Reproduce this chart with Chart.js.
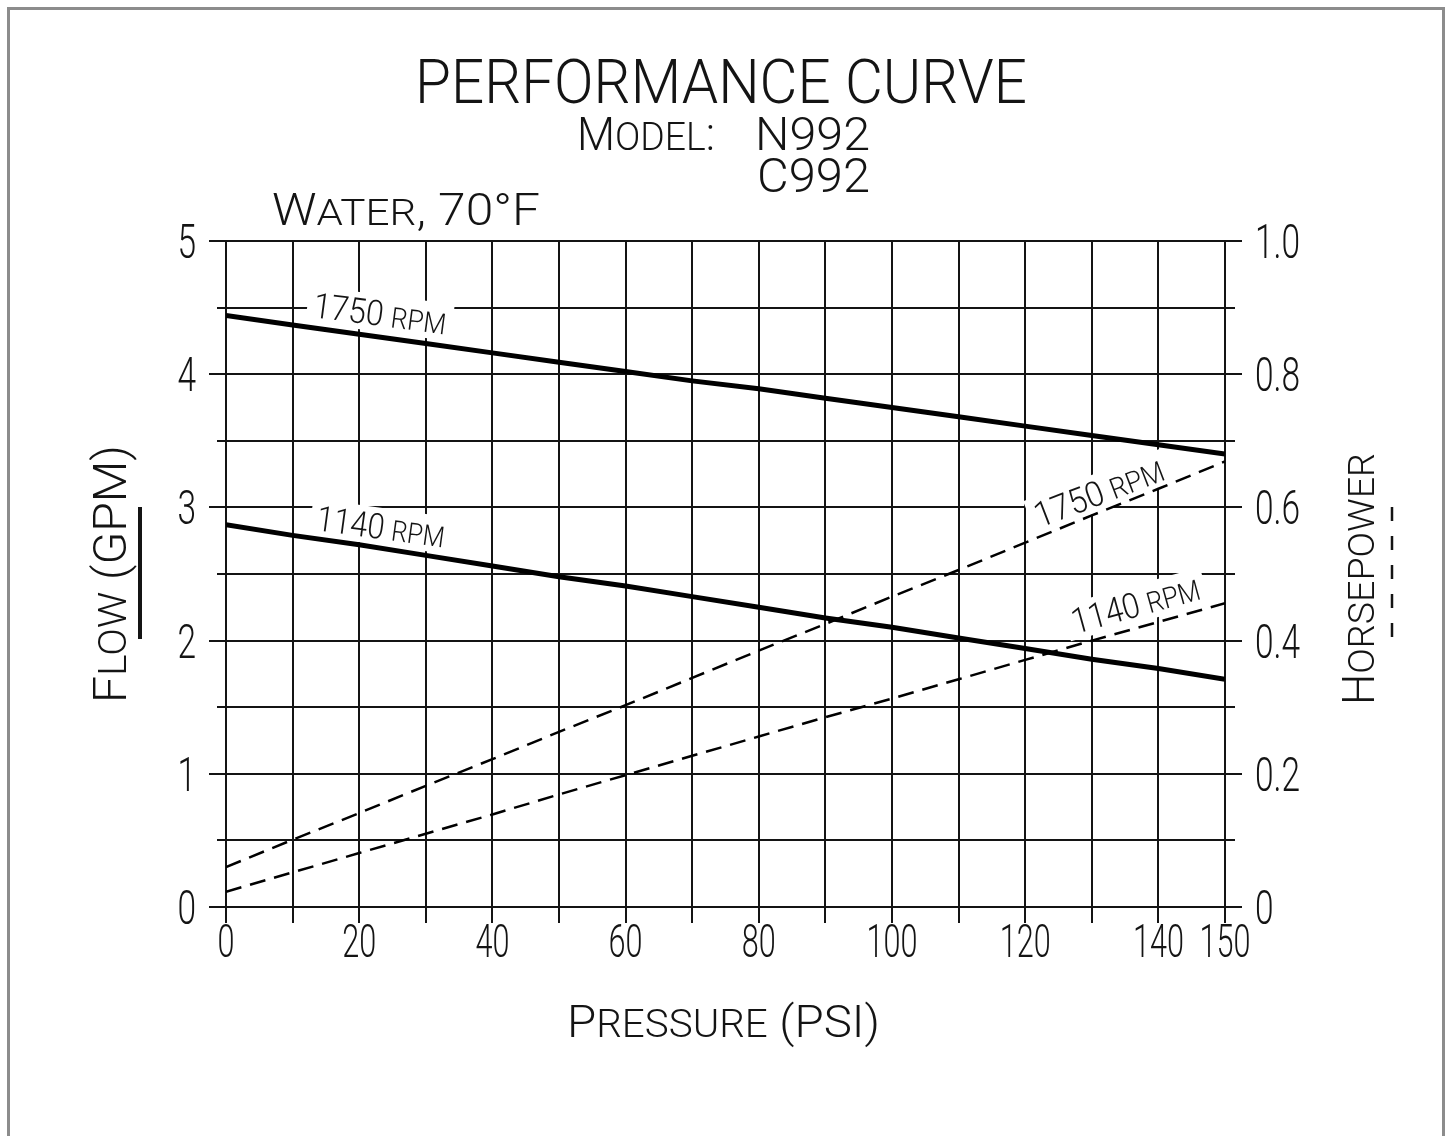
<!DOCTYPE html>
<html>
<head>
<meta charset="utf-8">
<title>Performance Curve</title>
<script src="https://cdn.jsdelivr.net/npm/chart.js@4.4.0/dist/chart.umd.min.js"></script>
<style>
  html, body { margin: 0; padding: 0; background: #fff; }
  canvas { display: block; }
</style>
</head>
<body>
<canvas id="curveChart" width="1451" height="1136"></canvas>
<script>
// pressure (psi) where the curves were read
const pressure = [0, 10, 20, 30, 40, 50, 60, 70, 80, 90, 100, 110, 120, 130, 140, 150];

// flow (GPM), solid lines
const flow1750 = [4.44, 4.37, 4.30, 4.23, 4.16, 4.09, 4.02, 3.95, 3.89, 3.82, 3.75, 3.68, 3.61, 3.54, 3.47, 3.40];
const flow1140 = [2.87, 2.79, 2.72, 2.64, 2.56, 2.48, 2.41, 2.33, 2.25, 2.17, 2.10, 2.02, 1.94, 1.86, 1.79, 1.71];

// horsepower, dashed lines
const hp1750 = [0.060, 0.101, 0.141, 0.182, 0.222, 0.263, 0.303, 0.344, 0.385, 0.425, 0.466, 0.506, 0.547, 0.588, 0.628, 0.669];
const hp1140 = [0.023, 0.052, 0.081, 0.110, 0.139, 0.169, 0.198, 0.227, 0.256, 0.285, 0.313, 0.342, 0.371, 0.400, 0.428, 0.456];

// tick labels
const pressureLabels = [0, 20, 40, 60, 80, 100, 120, 140, 150];
const flowLabels = [0, 1, 2, 3, 4, 5];
const hpLabels = ['0', '0.2', '0.4', '0.6', '0.8', '1.0'];

const FAMILY = 'Roboto, "DejaVu Sans", sans-serif';
const WEIGHT = 300;
const CAP_RATIO = 0.711;
const INK = '#141414';

// curve labels: anchor in data units (psi, axis value), baseline angle in degrees
const curveLabels = [
    { text: '1750 rpm', axis: 'y',  at: [12.9, 4.43],   angle: 7.5,   width: 134 },
    { text: '1140 rpm', axis: 'y',  at: [13.4, 2.83],   angle: 7.8,   width: 129 },
    { text: '1750 rpm', axis: 'y2', at: [122.2, 0.569], angle: -21,   width: 136 },
    { text: '1140 rpm', axis: 'y2', at: [127.5, 0.41],  angle: -15.5, width: 132 }
];

// lowercase letters are drawn as small capitals, like the drafting font
function layoutRuns(ctx, text, o) {
    const big = o.cap / CAP_RATIO;
    const small = big * (o.smallRatio || 0.85);
    const runs = [];
    for (const ch of text) {
        const low = ch !== ch.toUpperCase();
        const size = low ? small : big;
        const t = low ? ch.toUpperCase() : ch;
        const last = runs[runs.length - 1];
        if (last && last.size === size) last.t += t;
        else runs.push({ t: t, size: size });
    }
    let w = 0;
    runs.forEach(r => {
        ctx.font = WEIGHT + ' ' + r.size + 'px ' + FAMILY;
        r.w = ctx.measureText(r.t).width;
        w += r.w;
    });
    return { runs: runs, w: w };
}

function drawText(ctx, text, x, y, o) {
    ctx.save();
    const lay = layoutRuns(ctx, text, o);
    const sx = o.width ? o.width / lay.w : (o.sx || 1);
    ctx.translate(x, y);
    if (o.angle) ctx.rotate(o.angle * Math.PI / 180);
    ctx.scale(sx, 1);
    let cx = o.align === 'center' ? -lay.w / 2 : (o.align === 'right' ? -lay.w : 0);
    if (o.knockout) {
        const p = o.knockout;
        ctx.fillStyle = '#fff';
        ctx.fillRect(cx - p / sx, -o.cap - p, lay.w + 2 * p / sx, o.cap + 2 * p);
        ctx.restore();
        return;
    }
    ctx.fillStyle = INK;
    ctx.textAlign = 'left';
    ctx.textBaseline = 'alphabetic';
    lay.runs.forEach(r => {
        ctx.font = WEIGHT + ' ' + r.size + 'px ' + FAMILY;
        ctx.fillText(r.t, cx, 0);
        cx += r.w;
    });
    ctx.restore();
}

function labelPoint(chart, l) {
    return [chart.scales.x.getPixelForValue(l.at[0]), chart.scales[l.axis].getPixelForValue(l.at[1])];
}

const drawingSheet = {
    id: 'drawingSheet',
    beforeDraw(chart) {
        const ctx = chart.ctx;
        ctx.save();
        ctx.fillStyle = '#fff';
        ctx.fillRect(0, 0, chart.width, chart.height);
        ctx.strokeStyle = '#8c8c8c';
        ctx.lineWidth = 3;
        ctx.strokeRect(8.5, 8.5, chart.width - 16, chart.height + 20);
        ctx.restore();
    },
    beforeDatasetsDraw(chart) {
        // white gaps in the grid behind the curve labels
        curveLabels.forEach(l => {
            const p = labelPoint(chart, l);
            drawText(chart.ctx, l.text, p[0], p[1], { cap: 25, smallRatio: 0.82, angle: l.angle, width: l.width, knockout: 6 });
        });
    },
    afterDraw(chart) {
        const ctx = chart.ctx;
        const { x, y, y2 } = chart.scales;

        // minor ticks at the half units
        ctx.save();
        ctx.strokeStyle = INK;
        ctx.lineWidth = 2;
        y.ticks.forEach(t => {
            if (Number.isInteger(t.value)) return;
            const py = Math.round(y.getPixelForValue(t.value));
            ctx.beginPath();
            ctx.moveTo(y.right - 9, py); ctx.lineTo(y.right, py);
            ctx.moveTo(y2.left, py); ctx.lineTo(y2.left + 10, py);
            ctx.stroke();
        });
        ctx.restore();

        // tick labels
        pressureLabels.forEach(v => drawText(ctx, String(v), x.getPixelForValue(v), x.top + 50, { cap: 33, sx: 0.66, align: 'center' }));
        flowLabels.forEach(v => drawText(ctx, String(v), y.right - 30, y.getPixelForValue(v) + 17, { cap: 34, sx: 0.7, align: 'right' }));
        hpLabels.forEach(s => drawText(ctx, s, y2.left + 30, y2.getPixelForValue(parseFloat(s)) + 17, { cap: 34, sx: 0.7, align: 'left' }));

        // curve labels
        curveLabels.forEach(l => {
            const p = labelPoint(chart, l);
            drawText(ctx, l.text, p[0], p[1], { cap: 25, smallRatio: 0.82, angle: l.angle, width: l.width });
        });

        // titles
        drawText(ctx, 'PERFORMANCE CURVE', 415, 103, { cap: 43, width: 612 });
        drawText(ctx, 'Model:', 577, 150, { cap: 33, width: 138 });
        drawText(ctx, 'N992', 755, 150, { cap: 33, width: 115 });
        drawText(ctx, 'C992', 757, 192, { cap: 34, width: 113 });
        drawText(ctx, 'Water, 70°F', 272, 225, { cap: 31, width: 268 });

        // axis titles
        drawText(ctx, 'Pressure (PSI)', 567, 1037, { cap: 32, width: 313 });
        drawText(ctx, 'Flow (GPM)', 126, 703, { cap: 33, width: 258, angle: -90 });
        drawText(ctx, 'Horsepower', 1374, 705, { cap: 31, width: 252, angle: -90 });

        // line style keys under the axis titles
        ctx.save();
        ctx.strokeStyle = INK;
        ctx.lineWidth = 4;
        ctx.beginPath(); ctx.moveTo(140, 507); ctx.lineTo(140, 639); ctx.stroke();
        ctx.lineWidth = 2.5;
        ctx.setLineDash([14, 15]);
        ctx.beginPath(); ctx.moveTo(1392, 507); ctx.lineTo(1392, 640); ctx.stroke();
        ctx.restore();
    }
};

function series(values) {
    return pressure.map((p, i) => ({ x: p, y: values[i] }));
}

const ctxCurve = document.getElementById('curveChart');
new Chart(ctxCurve, {
    type: 'line',
    data: {
        datasets: [
            { label: 'Flow 1750 RPM', data: series(flow1750), yAxisID: 'y', borderColor: '#000', borderWidth: 5, pointRadius: 0, tension: 0 },
            { label: 'Flow 1140 RPM', data: series(flow1140), yAxisID: 'y', borderColor: '#000', borderWidth: 5, pointRadius: 0, tension: 0 },
            { label: 'HP 1750 RPM', data: series(hp1750), yAxisID: 'y2', borderColor: '#000', borderWidth: 2.5, borderDash: [16, 9], pointRadius: 0, tension: 0 },
            { label: 'HP 1140 RPM', data: series(hp1140), yAxisID: 'y2', borderColor: '#000', borderWidth: 2.5, borderDash: [16, 9], pointRadius: 0, tension: 0 }
        ]
    },
    options: {
        responsive: false,
        animation: false,
        events: [],
        layout: { padding: { left: 100, right: 100, top: 241, bottom: 149 } },
        plugins: { legend: { display: false }, tooltip: { enabled: false } },
        scales: {
            x: {
                type: 'linear', min: 0, max: 150,
                ticks: { stepSize: 10, display: false },
                grid: { color: INK, lineWidth: 2, tickLength: 16, tickColor: INK },
                border: { color: INK, width: 2 },
                afterFit: s => { s.height = 80; }
            },
            y: {
                type: 'linear', min: 0, max: 5,
                ticks: { stepSize: 0.5, display: false },
                grid: {
                    color: INK, lineWidth: 2, tickLength: 17,
                    tickColor: c => Number.isInteger(c.tick.value) ? INK : 'rgba(0,0,0,0)'
                },
                border: { color: INK, width: 2 },
                afterFit: s => { s.width = 126; }
            },
            y2: {
                type: 'linear', position: 'right', min: 0, max: 1,
                ticks: { stepSize: 0.1, display: false },
                grid: {
                    drawOnChartArea: false, lineWidth: 2, tickLength: 17,
                    tickColor: c => Math.round(c.tick.value * 10) % 2 === 0 ? INK : 'rgba(0,0,0,0)'
                },
                border: { color: INK, width: 2 },
                afterFit: s => { s.width = 126; }
            }
        }
    },
    plugins: [drawingSheet]
});
</script>
</body>
</html>
